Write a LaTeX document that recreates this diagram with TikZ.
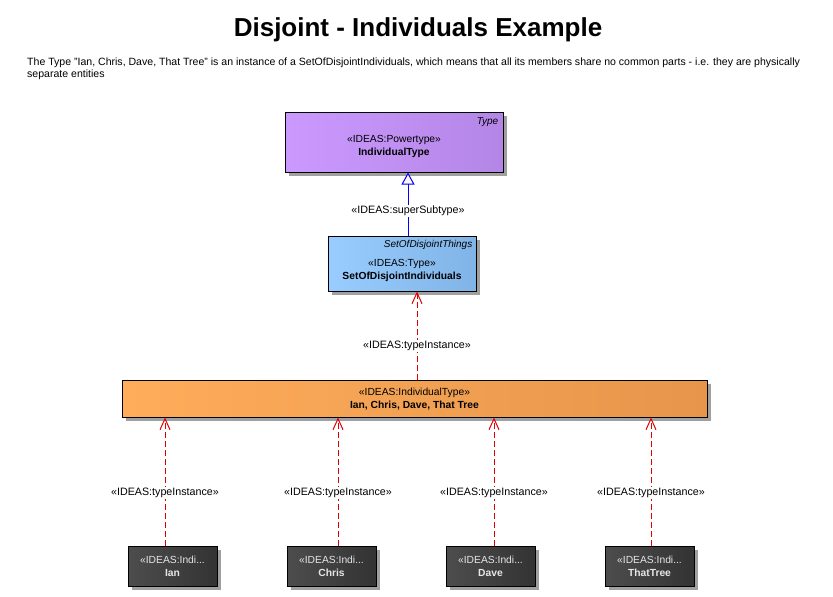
\documentclass[tikz,border=0pt]{standalone}
\usepackage{fontspec}
\setmainfont{Liberation Sans}
\usepackage{xcolor}
\definecolor{ptL}{HTML}{CC99FF}
\definecolor{ptR}{HTML}{B386E6}
\definecolor{tyL}{HTML}{99CCFF}
\definecolor{tyR}{HTML}{80B3E6}
\definecolor{itL}{HTML}{FFAD5B}
\definecolor{itR}{HTML}{E6954B}
\definecolor{inL}{HTML}{4D4D4D}
\definecolor{inR}{HTML}{333333}
\definecolor{inTxt}{HTML}{E6E6E6}
\definecolor{shade}{HTML}{A0A0A0}
\definecolor{rel}{HTML}{E00000}
\definecolor{gen}{HTML}{0000FF}
\definecolor{tri}{HTML}{FFF5EB}
\usetikzlibrary{arrows.meta,shadows}
\tikzset{
  >={Straight Barb[length=11pt,width=10pt]},
  elem/.style={draw=black,line width=1pt,inner sep=0pt,drop shadow={shadow xshift=4pt,shadow yshift=-4pt,fill=shade,opacity=1}},
  ptbox/.style={elem,left color=ptL,right color=ptR},
  tybox/.style={elem,left color=tyL,right color=tyR},
  itbox/.style={elem,left color=itL,right color=itR},
  inbox/.style={elem,left color=inL,right color=inR,minimum width=89pt,minimum height=40pt},
  txt/.style={font=\fontsize{10.3}{13}\selectfont,align=center,inner sep=0pt},
  intxt/.style={txt,text=inTxt},
  tag/.style={font=\fontsize{10}{12}\selectfont\itshape,inner sep=0pt,anchor=north east},
  lab/.style={font=\fontsize{10.7}{12}\selectfont,fill=white,inner sep=1pt},
  inst/.style={->,draw=rel,line width=1pt,dash pattern=on 6pt off 3pt},
  gnl/.style={-{Triangle[length=12pt,width=13pt,fill=tri]},draw=gen,line width=1pt},
}
\begin{document}
\begin{tikzpicture}[x=1pt,y=-1pt]
\useasboundingbox (0,0) rectangle (833,597);
% heading
\node[font=\bfseries\fontsize{26}{30}\selectfont,inner sep=0pt] (title) at (418,30) {Disjoint - Individuals Example};
\node[txt,font=\fontsize{10.55}{12}\selectfont,align=left,anchor=north west] (note) at (27,58) {The Type "Ian, Chris, Dave, That Tree" is an instance of a SetOfDisjointIndividuals, which means that all its members share no common parts - i.e. they are physically\\separate entities};
% powertype
\node[ptbox,minimum width=218pt,minimum height=60pt] (pt) at (394,142) {};
\node[tag] (ptTag) at ([xshift=-5pt,yshift=-6pt]pt.north east) {Type};
\node[txt] (ptTxt) at ([yshift=-4.5pt]pt.center) {«IDEAS:Powertype»\\\textbf{IndividualType}};
% set of disjoint things
\node[tybox,minimum width=148pt,minimum height=55pt] (sodi) at (402,263.5) {};
\node[tag] (sodiTag) at ([xshift=-4pt,yshift=-5pt]sodi.north east) {SetOfDisjointThings};
\node[txt] (sodiTxt) at ([yshift=-7pt]sodi.center) {«IDEAS:Type»\\\textbf{SetOfDisjointIndividuals}};
% the type
\node[itbox,minimum width=585pt,minimum height=37pt] (grp) at (414.5,398.5) {};
\node[txt] (grpTxt) at ([yshift=-1pt]grp.center) {«IDEAS:IndividualType»\\\textbf{Ian, Chris, Dave, That Tree}};
% individuals
\node[inbox] (ian) at (172.5,566) {};
\node[intxt] (ianTxt) at (ian.center) {«IDEAS:Indi...\\\textbf{Ian}};
\node[inbox] (chris) at (331.5,566) {};
\node[intxt] (chrisTxt) at (chris.center) {«IDEAS:Indi...\\\textbf{Chris}};
\node[inbox] (dave) at (490.5,566) {};
\node[intxt] (daveTxt) at (dave.center) {«IDEAS:Indi...\\\textbf{Dave}};
\node[inbox] (tree) at (649.5,566) {};
\node[intxt] (treeTxt) at (tree.center) {«IDEAS:Indi...\\\textbf{ThatTree}};
% relations
\draw[gnl] ([xshift=6pt]sodi.north) -- ([xshift=14pt]pt.south) node[lab,pos=.39] (supLbl) {«IDEAS:superSubtype»};
\draw[inst] ([xshift=2.5pt]grp.north) -- ([xshift=15pt]sodi.south) node[lab,pos=.38] (grpLbl) {«IDEAS:typeInstance»};
\draw[inst] ([xshift=-7.5pt]ian.north) -- ([xshift=-249.5pt]grp.south) node[lab,pos=.41] (ianLbl) {«IDEAS:typeInstance»};
\draw[inst] ([xshift=6.5pt]chris.north) -- ([xshift=-76.5pt]grp.south) node[lab,pos=.41] (chrisLbl) {«IDEAS:typeInstance»};
\draw[inst] ([xshift=3.5pt]dave.north) -- ([xshift=79.5pt]grp.south) node[lab,pos=.41] (daveLbl) {«IDEAS:typeInstance»};
\draw[inst] ([xshift=1.5pt]tree.north) -- ([xshift=236.5pt]grp.south) node[lab,pos=.41] (treeLbl) {«IDEAS:typeInstance»};
\end{tikzpicture}
\end{document}
